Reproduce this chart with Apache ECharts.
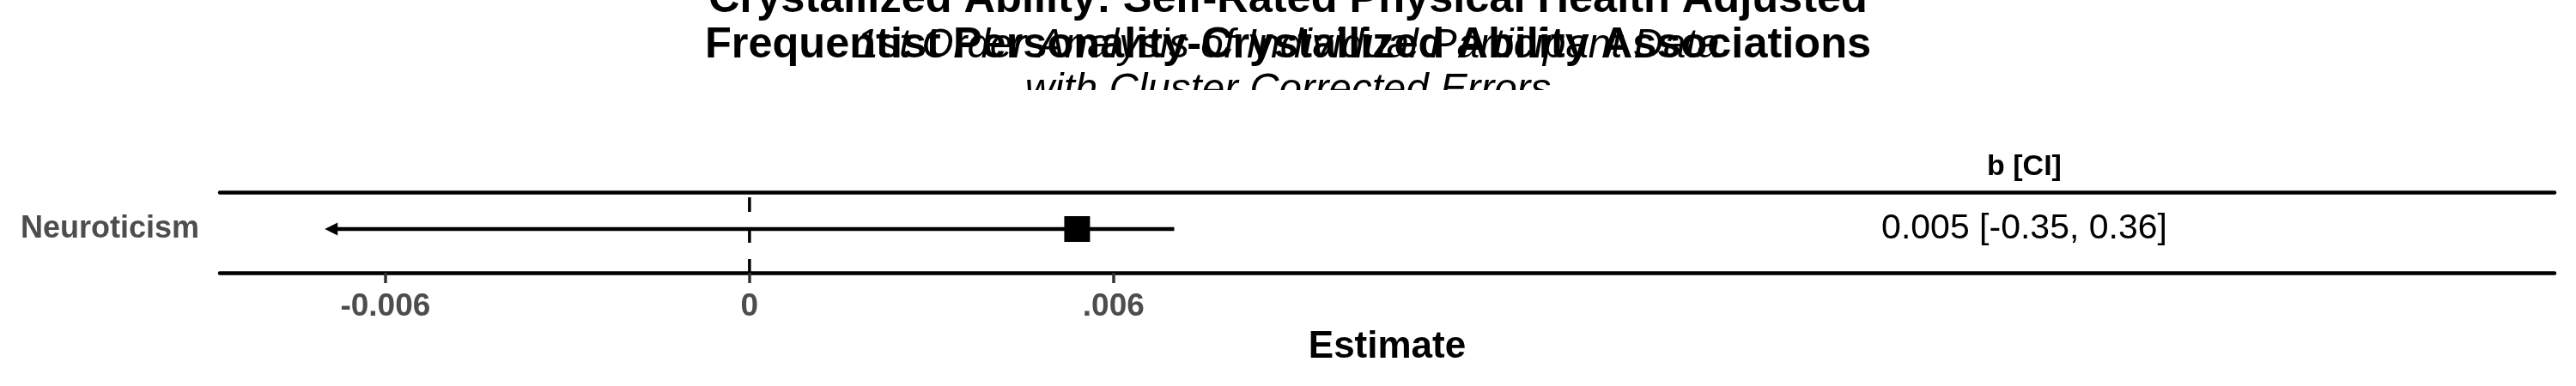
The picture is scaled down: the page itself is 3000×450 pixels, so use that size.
<!DOCTYPE html>
<html><head><meta charset="utf-8">
<script src="https://cdn.jsdelivr.net/npm/echarts@6/dist/echarts.min.js"></script>
<style>html,body{margin:0;padding:0;background:#fff}#c{width:3000px;height:450px}</style>
</head><body><div id="c"></div>
<script>
// ---- data ----
const categories = ['Neuroticism'];
const estimates = [0.0054];
const ciLow = [-0.0070];
const ciHigh = [0.0070];
const lowClipped = [1];
const highClipped = [0];
const ciText = ['0.005 [-0.35, 0.36]'];
const columnHeader = ['b [CI]'];
const tickValues = [-0.006, 0, 0.006];
const tickLabels = ['-0.006', '0', '.006'];
const refValue = [0];
const xMin = -0.00873, xMax = 0.02975;
const titleLines = ['Crystallized Ability: Self-Rated Physical Health Adjusted', 'Frequentist Personality-Crystallized Ability Associations'];
const subtitleLines = ['1st Order Analysis of Individual Participant Data', 'with Cluster Corrected Errors'];
const axisTitle = 'Estimate';

const FF = '"Liberation Sans", Arial, Helvetica, sans-serif';
const chart = echarts.init(document.getElementById('c'), null, {renderer: 'canvas'});

const option = {
  animation: false,
  backgroundColor: '#fff',
  textStyle: {fontFamily: FF},
  title: [
    {text: titleLines.join('\n'), left: 'center', top: -26, padding: 0,
     textStyle: {fontFamily: FF, fontSize: 50.5, fontWeight: 'bold', lineHeight: 53, color: '#000'}},
    {text: subtitleLines.join('\n'), left: 'center', top: 27.5, padding: 0,
     textStyle: {fontFamily: FF, fontSize: 47.5, fontStyle: 'italic', fontWeight: 'normal', lineHeight: 52, color: '#000'}}
  ],
  graphic: [
    {type: 'rect', z: 100, shape: {x: 1100, y: 105, width: 800, height: 19}, style: {fill: '#fff'}}
  ],
  grid: [
    {left: 256, right: 25, top: 216, bottom: 132, containLabel: false},
    {left: 1740, right: 25, top: 216, bottom: 132, containLabel: false}
  ],
  xAxis: [
    {gridIndex: 0, type: 'value', min: xMin, max: xMax, position: 'bottom',
     axisLine: {show: true, onZero: false, lineStyle: {color: '#000', width: 4.5}},
     axisTick: {show: true, customValues: tickValues, length: 12, lineStyle: {color: '#333', width: 3.5}},
     axisLabel: {show: true, customValues: tickValues, margin: 21, fontSize: 37, fontWeight: 'bold', color: '#4d4d4d', fontFamily: FF,
       formatter: v => { const i = tickValues.findIndex(t => Math.abs(t - v) < 1e-9); return i >= 0 ? tickLabels[i] : ''; }},
     splitLine: {show: false},
     name: axisTitle, nameLocation: 'middle', nameGap: 65,
     nameTextStyle: {fontSize: 44, fontWeight: 'bold', color: '#000', fontFamily: FF}},
    {gridIndex: 0, type: 'value', min: xMin, max: xMax, position: 'top', offset: -8,
     axisLine: {show: true, onZero: false, lineStyle: {color: '#000', width: 4.5}},
     axisTick: {show: false}, axisLabel: {show: false}, splitLine: {show: false}},
    {gridIndex: 1, type: 'category', data: columnHeader, position: 'top',
     axisLine: {show: false}, axisTick: {show: false}, splitLine: {show: false},
     axisLabel: {show: true, margin: 4, fontSize: 34, fontWeight: 'bold', color: '#000', fontFamily: FF}}
  ],
  yAxis: [
    {gridIndex: 0, type: 'category', data: categories,
     axisLine: {show: false}, axisTick: {show: false}, splitLine: {show: false},
     axisLabel: {show: true, margin: 24, fontSize: 36, fontWeight: 'bold', color: '#4d4d4d', fontFamily: FF}},
    {gridIndex: 1, type: 'category', data: categories, show: false}
  ],
  series: [
    {type: 'custom', xAxisIndex: 0, yAxisIndex: 0, silent: true, z: 2,
     data: refValue.map(v => [v]),
     encode: {x: 0},
     renderItem: (params, api) => {
       const p = api.coord([api.value(0), 0]);
       const cs = params.coordSys;
       return {type: 'line', shape: {x1: p[0], y1: cs.y + 14, x2: p[0], y2: cs.y + cs.height},
               style: {stroke: '#000', lineWidth: 3.5, lineDash: [17, 19]}};
     }},
    {type: 'custom', xAxisIndex: 0, yAxisIndex: 0, silent: true, z: 3,
     data: categories.map((c, i) => [ciLow[i], ciHigh[i], i, lowClipped[i], highClipped[i]]),
     encode: {x: [0, 1], y: 2},
     renderItem: (params, api) => {
       const p1 = api.coord([api.value(0), api.value(2)]);
       const p2 = api.coord([api.value(1), api.value(2)]);
       const L = 15, H = 7.5;
       const lc = api.value(3), hc = api.value(4);
       const children = [{type: 'line', shape: {x1: lc ? p1[0] + L - 1 : p1[0], y1: p1[1], x2: hc ? p2[0] - L + 1 : p2[0], y2: p2[1]},
                          style: {stroke: '#000', lineWidth: 4.5}}];
       if (lc) children.push({type: 'polygon', shape: {points: [[p1[0], p1[1]], [p1[0] + L, p1[1] - H], [p1[0] + L, p1[1] + H]]}, style: {fill: '#000'}});
       if (hc) children.push({type: 'polygon', shape: {points: [[p2[0], p2[1]], [p2[0] - L, p2[1] - H], [p2[0] - L, p2[1] + H]]}, style: {fill: '#000'}});
       return {type: 'group', children};
     }},
    {type: 'scatter', xAxisIndex: 0, yAxisIndex: 0, silent: true, z: 4,
     symbol: 'rect', symbolSize: 30, itemStyle: {color: '#000', opacity: 1},
     data: categories.map((c, i) => [estimates[i], i])},
    {type: 'scatter', xAxisIndex: 2, yAxisIndex: 1, silent: true, z: 4,
     symbolSize: 0, itemStyle: {opacity: 1},
     data: categories.map((c, i) => [columnHeader[0], c, ciText[i]]),
     label: {show: true, position: 'inside', formatter: p => p.data[2], fontSize: 41, color: '#000', fontFamily: FF}}
  ]
};
chart.setOption(option);
</script>
</body></html>
